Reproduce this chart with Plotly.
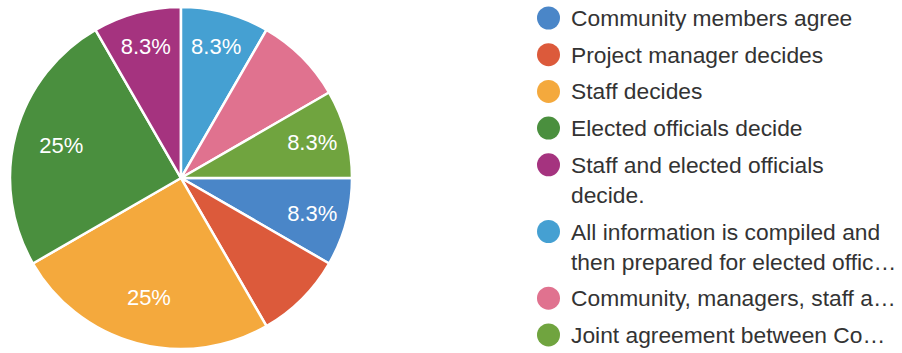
import plotly.graph_objects as go

# Survey responses: who makes the final decision
categories = [
    "Community members agree",
    "Project manager decides",
    "Staff decides",
    "Elected officials decide",
    "Staff and elected officials<br>decide.",
    "All information is compiled and<br>then prepared for elected offic…",
    "Community, managers, staff a…",
    "Joint agreement between Co…",
]
responses = [1, 1, 3, 3, 1, 1, 1, 1]
colors = ["#4a86c8", "#dc5a3b", "#f4a93d", "#4a8f3e",
          "#a5337f", "#45a0d2", "#e0728f", "#70a43f"]
# slices whose percentage label is drawn
show_label = [True, False, True, True, True, True, False, True]

W, H = 902, 353
FONT = "Liberation Sans, Arial, sans-serif"
domain = dict(x=[10 / W, 352 / W], y=[1 - 349 / H, 1 - 7 / H])

fig = go.Figure()
# filled slices
fig.add_trace(go.Pie(
    labels=categories,
    values=responses,
    sort=False,
    direction="clockwise",
    rotation=90,
    marker=dict(colors=colors, line=dict(color="white", width=2.5)),
    textinfo="none",
    showlegend=False,
    hoverinfo="label+percent",
    domain=domain,
))
# transparent ring carrying the percentage labels toward the outer edge
fig.add_trace(go.Pie(
    labels=categories,
    values=responses,
    sort=False,
    direction="clockwise",
    rotation=90,
    hole=0.45,
    marker=dict(colors=["rgba(0,0,0,0)"] * len(categories),
                line=dict(width=0)),
    texttemplate=["%{percent:.1~%}" if s else "" for s in show_label],
    textposition="inside",
    insidetextorientation="horizontal",
    textfont=dict(family=FONT, size=22, color="white"),
    showlegend=False,
    hoverinfo="skip",
    domain=domain,
))

# Legend drawn as circles plus text, one row per category
shapes, annotations = [], []
y = 18.0
pitch, line_h, r = 36.7, 30.0, 11.5
cx, tx = 548.5, 569
for name, col in zip(categories, colors):
    shapes.append(dict(
        type="circle", xref="paper", yref="paper",
        x0=(cx - r) / W, x1=(cx + r) / W,
        y0=1 - (y + r) / H, y1=1 - (y - r) / H,
        fillcolor=col, line=dict(width=0),
    ))
    lines = name.split("<br>")
    for i, ln in enumerate(lines):
        annotations.append(dict(
            x=tx / W, y=1 - (y + i * line_h) / H,
            xref="paper", yref="paper",
            xanchor="left", yanchor="middle",
            text=ln, showarrow=False,
            font=dict(family=FONT, size=22.8, color="#333333"),
        ))
    y += pitch + (len(lines) - 1) * line_h

fig.update_layout(
    width=W, height=H,
    margin=dict(l=0, r=0, t=0, b=0),
    paper_bgcolor="white",
    plot_bgcolor="white",
    shapes=shapes,
    annotations=annotations,
)

fig.write_html("out.html")
